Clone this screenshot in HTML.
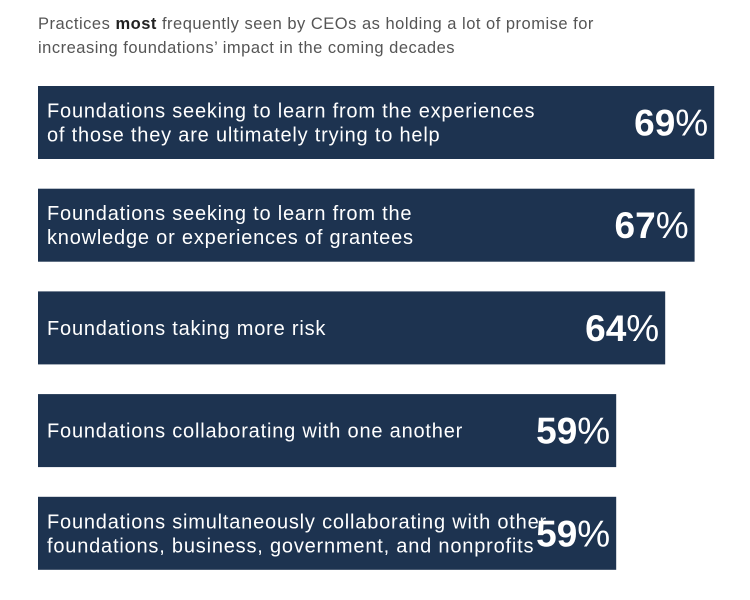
<!DOCTYPE html>
<html><head><meta charset="utf-8"><style>
body{margin:0;background:#fff;width:750px;height:600px;overflow:hidden;font-family:"Liberation Sans",sans-serif}
#sub{position:absolute;left:38px;top:12px;font-size:16.5px;line-height:24px;color:#555;letter-spacing:0.5px}
</style></head><body>
<div id="sub">Practices <b style="color:#222">most</b> frequently seen by CEOs as holding a lot of promise for<br>increasing foundations’ impact in the coming decades</div>
<svg id="chart" width="750" height="600" style="position:absolute;left:0;top:0"></svg>
<script>
const categories=[["Foundations seeking to learn from the experiences","of those they are ultimately trying to help"],["Foundations seeking to learn from the","knowledge or experiences of grantees"],["Foundations taking more risk"],["Foundations collaborating with one another"],["Foundations simultaneously collaborating with other","foundations, business, government, and nonprofits"]];
const values=[69,67,64,59,59];
const svg=document.getElementById('chart');
const NS='http://www.w3.org/2000/svg';
const x=v=>v*9.8;
const y=i=>86+i*102.7;
const barH=73;
values.forEach((v,i)=>{
  const g=document.createElementNS(NS,'g');
  
  
  const r=document.createElementNS(NS,'rect');
  
  
  r.setAttribute('x',38);r.setAttribute('y',y(i));
  r.setAttribute('width',x(v));r.setAttribute('height',barH);
  r.setAttribute('fill','#1d3350');
  g.appendChild(r);
  const lines=categories[i];
  lines.forEach((l,j)=>{
    const t=document.createElementNS(NS,'text');
    
    
    t.setAttribute('x',47);
    const cy=y(i)+barH/2+7+(j-(lines.length-1)/2)*24;
    t.setAttribute('y',cy);
    t.setAttribute('fill','#fff');t.setAttribute('font-size','20');
    t.setAttribute('letter-spacing','0.8');
    t.textContent=l;g.appendChild(t);
  });
  const p=document.createElementNS(NS,'text');
  
  
  p.setAttribute('x',38+x(v)-6);p.setAttribute('y',y(i)+barH/2+13);
  p.setAttribute('text-anchor','end');p.setAttribute('fill','#fff');p.setAttribute('font-size','37');
  const b=document.createElementNS(NS,'tspan');b.setAttribute('font-weight','bold');b.textContent=v;
  const s=document.createElementNS(NS,'tspan');s.textContent='%';
  p.appendChild(b);p.appendChild(s);g.appendChild(p);
  svg.appendChild(g);
});
</script>
</body></html>
